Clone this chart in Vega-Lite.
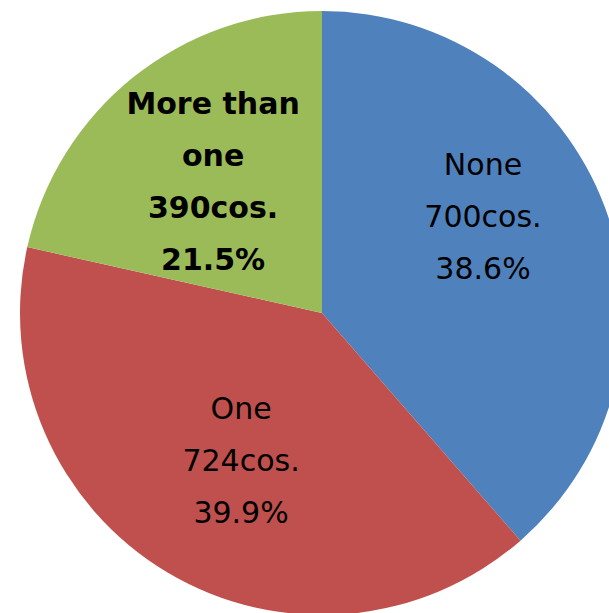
{
  "$schema": "https://vega.github.io/schema/vega-lite/v6.json",
  "width": 644,
  "height": 626,
  "autosize": "none",
  "padding": 0,
  "background": "white",
  "config": {"view": {"stroke": null}},
  "data": {
    "values": [
      {"category": "None", "count": 700, "order": 1, "label": ["None", "700cos.", "38.6%"]},
      {"category": "One", "count": 724, "order": 2, "label": ["One", "724cos.", "39.9%"]},
      {"category": "More than one", "count": 390, "order": 3, "label": ["More than", "one", "390cos.", "21.5%"]}
    ]
  },
  "encoding": {
    "theta": {"field": "count", "type": "quantitative", "stack": true},
    "order": {"field": "order", "type": "quantitative"}
  },
  "layer": [
    {
      "mark": {"type": "arc", "outerRadius": 302},
      "encoding": {
        "color": {
          "field": "category",
          "type": "nominal",
          "scale": {"domain": ["None", "One", "More than one"], "range": ["#4F81BD", "#C0504D", "#9BBB59"]},
          "legend": null
        }
      }
    },
    {
      "mark": {"type": "text", "radius": 186, "thetaOffset": -0.166, "dy": -54, "font": "DejaVu Sans", "fontSize": 30, "lineHeight": 52, "align": "center", "baseline": "middle", "color": "black"},
      "encoding": {
        "text": {"condition": {"test": "datum.category === 'None'", "field": "label"}, "value": ""}
      }
    },
    {
      "mark": {"type": "text", "radius": 173, "thetaOffset": -0.05, "dy": -56, "font": "DejaVu Sans", "fontSize": 30, "lineHeight": 52, "align": "center", "baseline": "middle", "color": "black"},
      "encoding": {
        "text": {"condition": {"test": "datum.category === 'One'", "field": "label"}, "value": ""}
      }
    },
    {
      "mark": {"type": "text", "radius": 168, "thetaOffset": -0.03, "dy": -80, "font": "DejaVu Sans", "fontSize": 30, "fontWeight": "bold", "lineHeight": 52, "align": "center", "baseline": "middle", "color": "black"},
      "encoding": {
        "text": {"condition": {"test": "datum.category === 'More than one'", "field": "label"}, "value": ""}
      }
    }
  ]
}
